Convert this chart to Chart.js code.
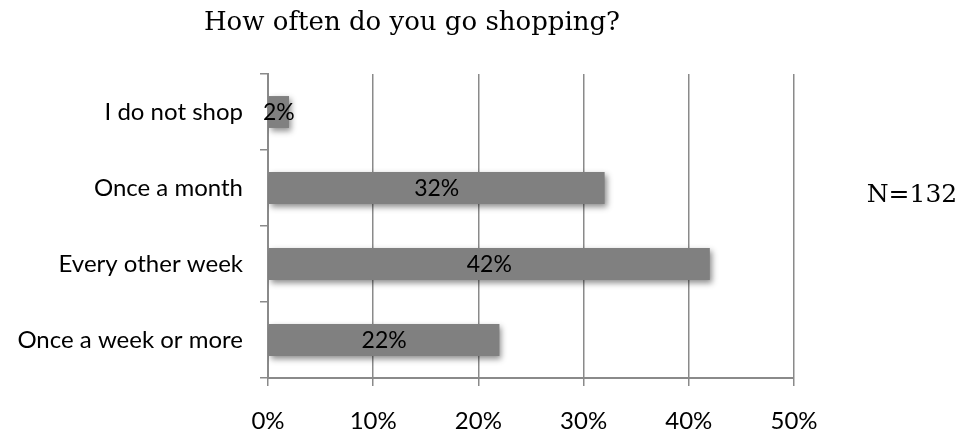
<!DOCTYPE html>
<html lang="en">
<head>
  <meta charset="UTF-8">
  <title>How often do you go shopping?</title>
  <style>
    html, body { margin: 0; padding: 0; background: #ffffff; }
    #wrap { width: 969px; height: 435px; position: relative; }
  </style>
  <script src="https://cdn.jsdelivr.net/npm/chart.js"></script>
</head>
<body>
  <div id="wrap"><canvas id="shopChart" width="969" height="435"></canvas></div>
  <script>
    const categories = ['I do not shop', 'Once a month', 'Every other week', 'Once a week or more'];
    const shares = [2, 32, 42, 22];
    const xTicks = [0, 10, 20, 30, 40, 50];
    const titleText = 'How often do you go shopping?';
    const sampleNote = 'N=132';

    const axisGray = '#8a8a8a';
    const labelFont = 'Lato, "Open Sans", sans-serif';
    const serifFont = '"DejaVu Serif", "Liberation Serif", serif';

    // shadow under the bars, like the office chart
    const barShadow = {
      id: 'barShadow',
      beforeDatasetsDraw(chart) {
        const ctx = chart.ctx;
        ctx.save();
        ctx.shadowColor = 'rgba(0,0,0,0.45)';
        ctx.shadowBlur = 6;
        ctx.shadowOffsetX = 2;
        ctx.shadowOffsetY = 3;
      },
      afterDatasetsDraw(chart) {
        chart.ctx.restore();
      }
    };

    // value text in the middle of each bar + title and N
    const barText = {
      id: 'barText',
      afterDatasetsDraw(chart) {
        const ctx = chart.ctx;
        const meta = chart.getDatasetMeta(0);
        ctx.save();
        ctx.fillStyle = '#000';
        ctx.font = '23px ' + labelFont;
        ctx.textAlign = 'center';
        ctx.textBaseline = 'middle';
        meta.data.forEach((bar, i) => {
          ctx.fillText(shares[i] + '%', (bar.x + bar.base) / 2, bar.y + 1);
        });
        ctx.font = '26px ' + serifFont;
        ctx.fillText(titleText, 412, 23);
        ctx.font = '25px ' + serifFont;
        ctx.fillText(sampleNote, 912, 195);
        ctx.restore();
      }
    };

    const ctx = document.getElementById('shopChart').getContext('2d');
    new Chart(ctx, {
      type: 'bar',
      data: {
        labels: categories,
        datasets: [{
          data: shares,
          backgroundColor: '#808080',
          borderWidth: 0,
          categoryPercentage: 1.0,
          barPercentage: 0.42
        }]
      },
      options: {
        indexAxis: 'y',
        responsive: false,
        animation: false,
        layout: { padding: { left: 0, right: 175, top: 74, bottom: 0 } },
        plugins: {
          legend: { display: false },
          tooltip: { enabled: false }
        },
        scales: {
          x: {
            min: 0,
            max: 50,
            afterBuildTicks(axis) {
              axis.ticks = xTicks.map(v => ({ value: v }));
            },
            afterFit(axis) { axis.height = 57; },
            grid: {
              color: axisGray,
              lineWidth: 1.5,
              drawTicks: true,
              tickLength: 8,
              tickColor: axisGray
            },
            border: { color: axisGray, width: 2 },
            ticks: {
              padding: 21,
              color: '#000',
              font: { family: labelFont, size: 24 },
              callback: v => v + '%'
            }
          },
          y: {
            afterFit(axis) { axis.width = 268; },
            grid: {
              offset: true,
              drawOnChartArea: false,
              drawTicks: true,
              tickLength: 8,
              tickColor: axisGray,
              lineWidth: 1.5
            },
            border: { color: axisGray, width: 2 },
            ticks: {
              padding: 17,
              color: '#000',
              font: { family: labelFont, size: 24 }
            }
          }
        }
      },
      plugins: [barShadow, barText]
    });
  </script>
</body>
</html>
